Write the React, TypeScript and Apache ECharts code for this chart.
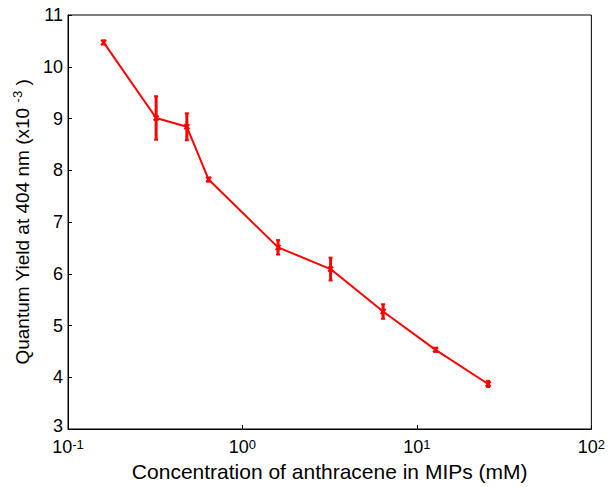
import React, { useEffect, useRef } from "react";
import * as echarts from "echarts";

const concentration = [0.16, 0.32, 0.48, 0.64, 1.6, 3.2, 6.4, 12.8, 25.6];
const quantumYield = [10.47, 9.01, 8.84, 7.82, 6.51, 6.09, 5.27, 4.53, 3.87];
const yieldError = [0.04, 0.42, 0.26, 0.04, 0.14, 0.22, 0.14, 0.04, 0.06];

const FONT = "Liberation Sans, Arial, sans-serif";
const RED = "#ff0000";

export default function App() {
  const ref = useRef<HTMLDivElement>(null);
  useEffect(() => {
    if (!ref.current) return;
    const chart = echarts.init(ref.current, undefined, { renderer: "svg" });
    const lineData = concentration.map((c, i) => [c, quantumYield[i]]);
    const errData = concentration.map((c, i) => [c, quantumYield[i], yieldError[i]]);
    chart.setOption({
      animation: false,
      backgroundColor: "#ffffff",
      grid: {
        left: 68,
        right: 15,
        top: 15,
        bottom: 58,
        show: true,
        borderColor: "#000",
        borderWidth: 1,
        containLabel: false,
      },
      xAxis: {
        type: "log",
        logBase: 10,
        min: 0.1,
        max: 100,
        name: "Concentration of anthracene in MIPs (mM)",
        nameLocation: "middle",
        nameGap: 27,
        nameTextStyle: { fontFamily: FONT, fontSize: 21, color: "#000" },
        axisLine: { show: true, lineStyle: { color: "#000", width: 1 } },
        axisTick: { show: true, inside: true, length: 4, lineStyle: { color: "#000" } },
        minorTick: { show: false },
        splitLine: { show: false },
        axisLabel: {
          margin: 9,
          formatter: (v: number) => {
            const e = Math.round(Math.log10(v));
            return `{b|10}{s|${e}}`;
          },
          rich: {
            b: { fontFamily: FONT, fontSize: 18, color: "#000", lineHeight: 18 },
            s: { fontFamily: FONT, fontSize: 13, color: "#000", verticalAlign: "top", lineHeight: 5 },
          },
        },
      },
      yAxis: {
        type: "value",
        min: 3,
        max: 11,
        interval: 1,
        name: "{n|Quantum Yield at 404 nm (x10 }{s|-3}{n| )}",
        nameLocation: "middle",
        nameGap: 35,
        nameRotate: 90,
        nameTextStyle: {
          rich: {
            n: { fontFamily: FONT, fontSize: 19, color: "#000", lineHeight: 22 },
            s: { fontFamily: FONT, fontSize: 13, color: "#000", verticalAlign: "top", lineHeight: 22 },
          },
        },
        axisLine: { show: true, lineStyle: { color: "#000", width: 1 } },
        axisTick: { show: true, inside: true, length: 4, lineStyle: { color: "#000" } },
        splitLine: { show: false },
        axisLabel: {
          margin: 5,
          formatter: (v: number) => (v === 3 ? `{lo|${v}}` : `{n|${v}}`),
          rich: {
            n: { fontFamily: FONT, fontSize: 18, lineHeight: 16, color: "#000" },
            lo: { fontFamily: FONT, fontSize: 18, lineHeight: 16, color: "#000", padding: [0, 0, 6, 0] },
          },
        },
      },
      series: [
        {
          type: "line",
          data: lineData,
          symbol: "none",
          lineStyle: { color: RED, width: 2 },
          z: 2,
        },
        {
          type: "custom",
          data: errData,
          z: 3,
          renderItem: (params: any, api: any) => {
            const x = api.value(0);
            const y = api.value(1);
            const e = api.value(2);
            const top = api.coord([x, y + e]);
            const bot = api.coord([x, y - e]);
            const c = api.coord([x, y]);
            const cap = 2;
            const m = 2.5;
            const style = { stroke: RED, lineWidth: 3 };
            return {
              type: "group",
              children: [
                { type: "line", shape: { x1: top[0], y1: top[1], x2: bot[0], y2: bot[1] }, style },
                { type: "line", shape: { x1: top[0] - cap, y1: top[1], x2: top[0] + cap, y2: top[1] }, style: { stroke: RED, lineWidth: 2 } },
                { type: "line", shape: { x1: bot[0] - cap, y1: bot[1], x2: bot[0] + cap, y2: bot[1] }, style: { stroke: RED, lineWidth: 2 } },
                { type: "line", shape: { x1: c[0] - m, y1: c[1] - m, x2: c[0] + m, y2: c[1] + m }, style: { stroke: RED, lineWidth: 2 } },
                { type: "line", shape: { x1: c[0] - m, y1: c[1] + m, x2: c[0] + m, y2: c[1] - m }, style: { stroke: RED, lineWidth: 2 } },
              ],
            };
          },
        },
      ],
    });
    return () => chart.dispose();
  }, []);
  return (
    <div
      ref={ref}
      style={{ position: "absolute", left: 0, top: 0, width: 608, height: 487, background: "#fff" }}
    />
  );
}
